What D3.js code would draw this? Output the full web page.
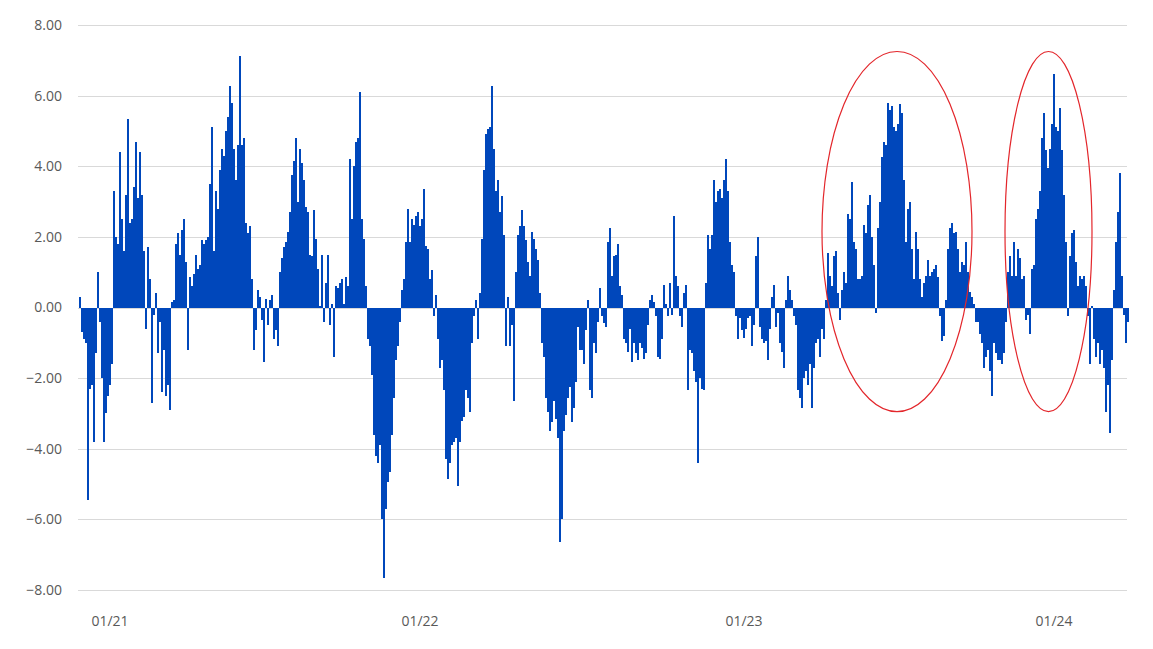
<!DOCTYPE html>
<html>
<head>
<meta charset="utf-8">
<script src="https://cdn.jsdelivr.net/npm/d3@7"></script>
<style>
  html, body { margin: 0; padding: 0; background: #ffffff; }
  svg { display: block; }
  text { font-family: "Open Sans", "Noto Sans", sans-serif; }
</style>
</head>
<body>
<svg id="chart" width="1153" height="649"></svg>
<script>
// ---- Data (one value per ~2 px column) ----
const seg2020 = [0.3,-0.7,-0.9,-1.0,-5.45,-2.3,-2.2,-3.8,-1.3,1.0,-0.4,-2.0,-3.8,-3.0,-2.5,-2.2,-1.6];
const seg2021a = [3.3,2.0,1.8,4.4,2.5,1.6,3.2,5.35,2.4,2.5,3.4,4.7,3.1,4.4,3.2,1.6,-0.6,1.7,0.8,-2.7,
  -0.2,0.4,-1.3,-0.4,-2.4,-1.2,-2.5,-2.2,-2.9,0.15,0.2,1.8,2.1,1.5,2.2,2.5,1.3,-1.2,0.85,0.6,
  0.95,1.5,1.1,1.2,1.9,1.8,1.9,2.0,3.5,5.1,1.6,3.3,2.8,3.9,4.5,4.3,5.0,5.4,6.27,5.8,
  4.5,3.6,4.6,7.13,4.6,4.8,2.4,2.1,2.3,0.8,-1.2,-0.65,0.5,0.3,-0.35,-1.55,0.25,-0.5,0.2,0.35,
  -0.9,-0.65,-1.1];
const seg2021b = [1.0,1.4,1.7,1.85,2.15,2.7,3.75,4.15,4.8,3.0,4.5,4.1,3.6,2.85,2.7,1.5,1.45,2.75,1.95,1.1,
  0.05,1.5,-0.4,0.7,1.5,-0.5,0.1,-1.4,0.6,0.55,0.7,0.8,0.1,0.85,0.6,4.2,2.5,4.0,4.7,4.8,
  6.1,2.5,1.95,0.6,-0.9,-1.1,-1.9,-3.6,-4.2,-4.4,-3.9,-6.0,-7.65,-5.7,-4.95,-4.65,-3.6,-2.55,-1.5,-1.1,
  -0.4,0.5,0.8,1.85,2.8,1.85,2.5,2.35,2.6,2.7];
const seg2022 = [2.3,2.5,3.35,1.75,1.65,0.8,1.05,-0.25,0.35,-0.9,-1.7,-1.5,-2.35,-4.3,-4.85,-4.4,-3.9,-3.8,-3.7,-5.05,
  -3.8,-3.2,-3.1,-2.35,-2.55,-2.95,-1.0,-0.25,0.2,-0.9,0.4,1.95,3.9,4.9,5.05,5.1,6.27,4.5,3.3,3.6,
  2.7,3.15,2.05,-1.1,0.3,-1.1,-0.5,-2.65,1.0,2.05,2.3,2.75,2.3,1.9,1.3,0.9,2.15,1.95,1.65,1.35,
  0.4,-1.0,-1.4,-2.55,-2.95,-3.5,-3.25,-2.65,-3.15,-3.7,-6.65,-6.0,-3.5,-3.05,-2.55,-2.25,-3.25,-2.85,-2.1,-0.55,
  -1.2,-1.2,-1.6,-0.65,0.2,-2.35,-2.55,-1.0,-1.3,-0.4,0.55,-0.25,-0.45,-0.55,1.85,2.25,0.9,1.45,1.5,1.8,
  0.6,0.35,-0.9,-1.0,-1.25,-0.6,-1.55,-1.0,-1.3,-1.5,-1.0,-1.15,-1.45,-1.3,-0.5,0.2,0.35,0.15,-0.25,-1.4,
  -1.45,-0.9,0.65,0.1,-0.25,0.7,-0.2,2.6,0.9,0.6,-0.25,-0.55,0.4,0.65,-2.35,-1.2,-1.3,-1.8,-2.1,-4.4,
  -2.0,-2.3,-2.35,0.7,2.05,1.65,2.05,3.6,3.0,3.3,3.35,3.1,3.6,4.2,3.3,1.85,1.2,1.0,-0.25,-0.9,
  -0.3,-0.65];
const seg2023 = [-0.85,-0.6,-0.3,-0.25,-1.1,-0.5,1.45,2.0,-0.55,-0.9,-1.0,-0.95,-1.5,-0.6,0.3,0.65,-0.55,-0.15,-1.0,-1.25,
  -1.7,0.2,0.9,0.5,0.2,-0.25,-0.5,-2.35,-2.55,-2.85,-2.0,-1.8,-2.2,-1.6,-2.85,-1.7,-1.0,-0.9,-1.4,-0.6,
  -0.9,0.2,1.55,0.9,0.6,1.45,1.6,0.4,-0.35,0.5,1.0,0.7,2.65,2.5,3.55,1.85,1.65,0.8,0.8,0.9,
  2.35,2.1,2.9,3.2,2.0,1.2,-0.15,2.25,3.0,4.25,4.7,4.6,5.8,5.6,5.7,5.1,5.0,5.2,5.75,5.5,
  3.6,1.85,2.8,3.0,1.65,0.8,2.15,1.65,0.8,0.3,0.7,0.9,1.35,0.9,1.0,1.1,1.2,0.85,-0.25,-0.95,
  -0.8,0.2,1.65,2.25,2.4,2.1,2.15,1.65,1.0,1.3,1.2,1.85,1.0,0.45,0.3,0.1,-0.4,-0.4,-0.75,-1.0,
  -1.7,-1.4,-1.2,-1.8,-2.5,-1.0,-1.3,-1.5,-1.5,-1.6,-1.3,-0.4,1.0,1.45,0.9,1.85,0.9,1.65,1.4,0.8,
  0.9,-0.35,-0.2,-0.75,1.1,1.2,2.5,2.8,3.3,4.8,5.5,4.45,3.95,4.5,5.2];
const seg2024 = [6.6,5.1,5.0,5.65,4.45,3.2,1.85,-0.25,1.45,2.1,2.2,1.3,0.6,0.9,0.8,0.9,0.6,-0.25,-1.6,0.05,
  -0.9,-1.4,-1.0,-1.6,-1.2,-1.7,-2.95,-2.2,-3.55,-1.5,0.5,1.85,2.7,3.8,0.9,-0.2,-1.0,-0.4];

const values = [].concat(seg2020, seg2021a, seg2021b, seg2022, seg2023, seg2024);

const yTicks = [-8, -6, -4, -2, 0, 2, 4, 6, 8];
const xTickLabels = ["01/21", "01/22", "01/23", "01/24"];
const xTickIndex = [15, 170, 332, 487];

// Highlighted regions (data coordinates: column index range and value range)
const highlightIndex = [[371.5, 446.5], [463, 506.5]];
const highlightValue = [7.25, -2.95];

// ---- Drawing ----
const svg = d3.select("#chart");
const plotLeft = 79, plotRight = 79 + values.length * 2, plotTop = 25, plotBottom = 590;

const x = d3.scaleBand().domain(d3.range(values.length)).range([plotLeft, plotRight]).padding(0);
const y = d3.scaleLinear().domain([-8, 8]).range([plotBottom, plotTop]);
const xAt = i => plotLeft + i * x.step();

// gridlines + y labels
const yAxis = d3.axisLeft(y).tickValues(yTicks).tickFormat(d3.format(".2f"))
  .tickSize(-(1128 - plotLeft)).tickPadding(16);
const gy = svg.append("g").attr("transform", `translate(${plotLeft - 1},0)`).call(yAxis);
gy.select(".domain").remove();
gy.selectAll(".tick line").attr("stroke", "#d9d9d9").attr("stroke-width", 1).attr("shape-rendering", "crispEdges");
gy.selectAll(".tick text").attr("fill", "#595959").style("font-size", "14px");

// bars
svg.append("g").selectAll("rect").data(values).join("rect")
  .attr("x", (d, i) => x(i))
  .attr("width", x.bandwidth())
  .attr("y", d => y(Math.max(0, d)))
  .attr("height", d => Math.abs(y(d) - y(0)))
  .attr("fill", "#0047BB")
  .attr("shape-rendering", "crispEdges");

// x labels
const xAxis = d3.axisBottom(x).tickValues(xTickIndex)
  .tickFormat((d, k) => xTickLabels[k]).tickSize(0).tickPadding(0);
const gx = svg.append("g").attr("transform", `translate(0,615)`).call(xAxis);
gx.select(".domain").remove();
gx.selectAll(".tick text").attr("fill", "#595959").style("font-size", "14px").attr("dy", "0.75em");

// highlight ellipses
svg.append("g").selectAll("ellipse").data(highlightIndex).join("ellipse")
  .attr("cx", d => (xAt(d[0]) + xAt(d[1])) / 2)
  .attr("rx", d => (xAt(d[1]) - xAt(d[0])) / 2)
  .attr("cy", (y(highlightValue[0]) + y(highlightValue[1])) / 2)
  .attr("ry", (y(highlightValue[1]) - y(highlightValue[0])) / 2)
  .attr("fill", "none")
  .attr("stroke", "#e3262b")
  .attr("stroke-width", 1.2);
</script>
</body>
</html>
